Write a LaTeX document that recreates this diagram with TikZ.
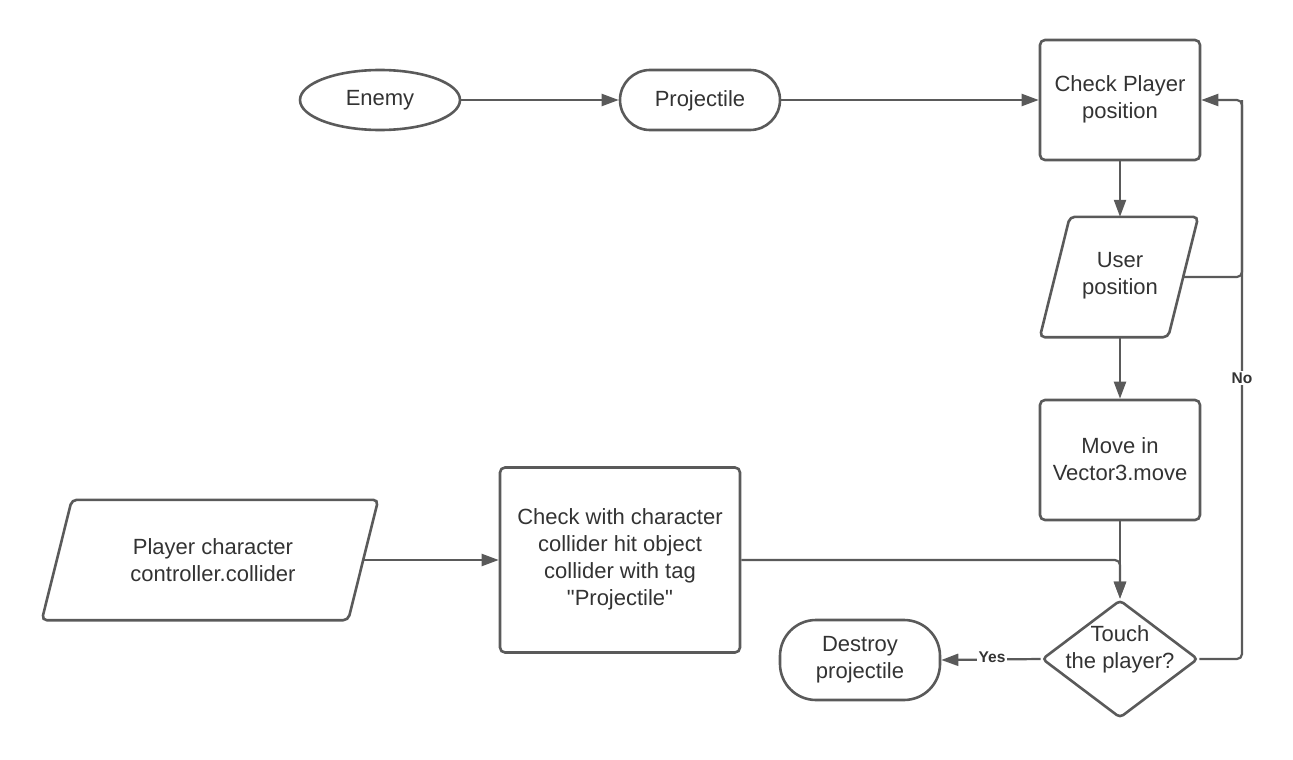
\documentclass[tikz,border=0pt]{standalone}
\usepackage{fontspec}
\setmainfont{Liberation Sans}
\newcommand\straightq{\XeTeXglyph\XeTeXcharglyph"22\relax}
\usetikzlibrary{shapes.geometric,arrows.meta,calc}
\definecolor{lc}{HTML}{5A5A5A}
\definecolor{tc}{HTML}{333333}
\tikzset{
  base/.style={draw=lc, line width=2.6pt, text=tc, font=\fontsize{22}{27}\selectfont, align=center, inner sep=0pt},
  procbox/.style={base, rectangle, rounded corners=5pt, minimum width=160pt, minimum height=120pt},
  termbox/.style={base, rectangle, rounded corners=30pt, minimum width=160pt, minimum height=60pt},
  ellbox/.style={base, ellipse, minimum width=160pt, minimum height=60pt},
  iobody/.style={rectangle, inner sep=0pt, minimum height=120pt},
  ioline/.style={draw=lc, line width=2.6pt, rounded corners=5pt},
  decbox/.style={base, diamond, rounded corners=4pt, minimum width=156pt, minimum height=118pt},
  txt/.style={text=tc, font=\fontsize{22}{27}\selectfont, align=center, inner sep=0pt, yshift=-2.5pt},
  conn/.style={draw=lc, line width=2.2pt, -{Triangle[length=17pt,width=12pt]}},
  plain/.style={draw=lc, line width=2.2pt},
  lbl/.style={text=tc, font=\fontsize{15.5}{18}\selectfont\bfseries, fill=white, inner sep=1.5pt}
}
\begin{document}
\begin{tikzpicture}[x=1pt,y=-1pt]
\useasboundingbox (0,0) rectangle (1293,760);
\node[ellbox] (enemy) at (380,100) {};
\node[txt] (enemytxt) at (380,98) {Enemy};
\node[termbox] (proj) at (700,100) {};
\node[txt] (projtxt) at (700,98) {Projectile};
\node[procbox] (cpp) at (1120,100) {};
\node[txt] (cpptxt) at (1120,96.5) {Check Player\\position};
\node[iobody, minimum width=128pt] (user) at (1119,277) {};
\draw[ioline] ($(user.north west)+(15,0)$) -- ($(user.north east)+(15,0)$) -- ($(user.south east)+(-15,0)$) -- ($(user.south west)+(-15,0)$) -- cycle;
\node[txt] (usertxt) at (1120,273.5) {User\\position};
\node[procbox] (move) at (1120,460) {};
\node[txt] (movetxt) at (1120,456.5) {Move in\\Vector3.move};
\node[decbox] (touch) at (1120,659) {};
\node[txt] (touchtxt) at (1120,647) {Touch\\the player?};
\node[termbox, minimum height=80pt, rounded corners=36pt] (destroy) at (860,660) {};
\node[txt] (destroytxt) at (860,657.5) {Destroy\\projectile};
\node[iobody, minimum width=306pt] (pcc) at (210,560) {};
\draw[ioline] ($(pcc.north west)+(15,0)$) -- ($(pcc.north east)+(15,0)$) -- ($(pcc.south east)+(-15,0)$) -- ($(pcc.south west)+(-15,0)$) -- cycle;
\node[txt] (pcctxt) at (213,557.5) {Player character\\controller.collider};
\node[procbox, minimum width=240pt, minimum height=185pt] (cw) at (620,560) {};
\node[txt] (cwtxt) at (620,556.5) {Check with character\\collider hit object\\collider with tag\\\straightq Projectile\straightq};
\coordinate (rx) at (1242,0);
% connectors
\draw[conn] (enemy.east) -- (proj.west);
\draw[conn] (proj.east) -- (cpp.west);
\draw[conn] (cpp.south) -- (user.north -| cpp.south);
\draw[conn] (user.south -| cpp.south) -- (move.north);
\draw[conn] (move.south) -- (touch.north);
\draw[plain, rounded corners=5pt] (user.east) -- (rx |- user.east) -- (rx |- cpp.east);
\draw[conn, rounded corners=5pt] (touch.east) -- (rx |- touch.east) -- (rx |- cpp.east) -- (cpp.east);
\draw[conn, rounded corners=5pt] (cw.east) -- (touch.north |- cw.east) -- (touch.north);
\draw[conn] (pcc.east) -- (cw.west);
\draw[conn] (touch.west) -- (destroy.east);
\node[lbl] (nolbl) at (1242,378) {No};
\node[lbl] (yeslbl) at (992,657) {Yes};
\end{tikzpicture}
\end{document}
